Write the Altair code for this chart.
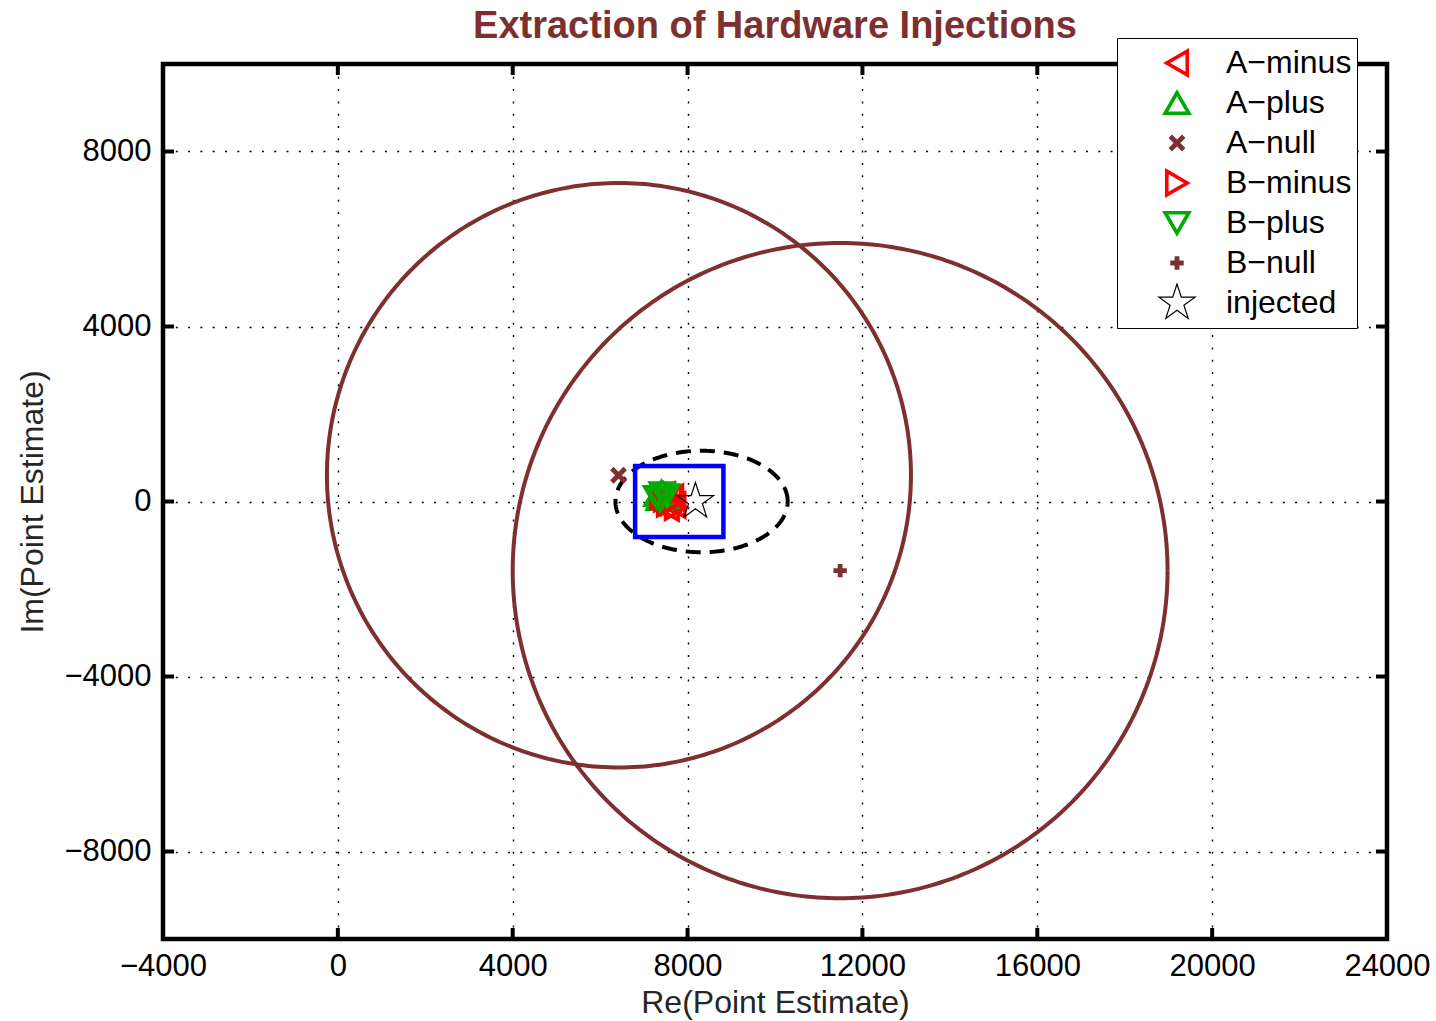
import altair as alt
import numpy as np
import pandas as pd

# ---- axis ticks -------------------------------------------------------
x_ticks = [-4000, 0, 4000, 8000, 12000, 16000, 20000, 24000]
y_ticks = [-8000, -4000, 0, 4000, 8000]

# ---- point estimates (Re, Im) per detector stream ---------------------
series_names = ["A−minus", "A−plus", "A−null", "B−minus", "B−plus", "B−null", "injected"]

a_minus_re = [7450, 7600, 7700, 7550, 7650, 7500]
a_minus_im = [150, 50, -80, -150, 100, 0]
a_plus_re = [7300, 7400, 7500, 7350, 7450]
a_plus_im = [150, 220, 100, 60, 180]
a_null_re = [6420]
a_null_im = [600]
b_minus_re = [7400, 7550, 7730, 7480, 7650]
b_minus_im = [120, -50, -130, 60, -20]
b_plus_re = [7290, 7420, 7520, 7380]
b_plus_im = [100, 190, 140, 30]
b_null_re = [11490]
b_null_im = [-1580]
injected_re = [8180]
injected_im = [0]

# ---- uncertainty regions ------------------------------------------------
null_circle_re = [6430, 11490]
null_circle_im = [600, -1580]
null_circle_radius = [6680, 7490]

ellipse_re, ellipse_im = 8320, 0
ellipse_semi_re, ellipse_semi_im = 1970, 1160

box_re = [6800, 8820]
box_im = [-810, 810]

# ---- styling --------------------------------------------------------------
BROWN = "#7E2F2F"
RED = "#FF0000"
GREEN = "#00AA00"
FONT = "Liberation Sans"

STAR = ("M0,-1L0.225,-0.309L0.951,-0.309L0.363,0.118L0.588,0.809L0,0.382"
        "L-0.588,0.809L-0.363,0.118L-0.951,-0.309L-0.225,-0.309Z")
XMARK = "M-1,-1L1,1M-1,1L1,-1"
PLUS = "M-1,0L1,0M0,-1L0,1"

series_colors = [RED, GREEN, BROWN, RED, GREEN, BROWN, "black"]
series_shapes = ["triangle-left", "triangle-up", XMARK, "triangle-right",
                 "triangle-down", PLUS, STAR]
series_sizes = [560, 560, 180, 560, 560, 180, 1450]
series_widths = [3.6, 3.6, 4.8, 3.6, 3.6, 4.8, 1.2]

W, H = 1224, 875
TICK = 11

# ---- tables ------------------------------------------------------------------
groups = [
    (a_minus_re, a_minus_im), (a_plus_re, a_plus_im), (a_null_re, a_null_im),
    (b_minus_re, b_minus_im), (b_plus_re, b_plus_im), (b_null_re, b_null_im),
    (injected_re, injected_im),
]
rows = []
for k, (name, (res, ims)) in enumerate(zip(series_names, groups)):
    for r, i in zip(res, ims):
        rows.append({"re": r, "im": i, "series": name, "layer": k})
points = pd.DataFrame(rows)

t = np.linspace(0, 2 * np.pi, 361)
circ_rows = []
for k, (cx, cy, rad) in enumerate(zip(null_circle_re, null_circle_im, null_circle_radius)):
    for j, a in enumerate(t):
        circ_rows.append({"re": cx + rad * np.cos(a), "im": cy + rad * np.sin(a),
                          "ring": k, "idx": j})
circles = pd.DataFrame(circ_rows)

ellipse = pd.DataFrame({
    "re": ellipse_re + ellipse_semi_re * np.cos(t),
    "im": ellipse_im + ellipse_semi_im * np.sin(t),
    "idx": np.arange(len(t)),
})

box = pd.DataFrame({"re0": [box_re[0]], "re1": [box_re[1]],
                    "im0": [box_im[0]], "im1": [box_im[1]]})

xt = pd.DataFrame({"re": x_ticks})
yt = pd.DataFrame({"im": y_ticks})

# ---- scales & axes --------------------------------------------------------------
xs = alt.Scale(domain=[-4000, 24000], nice=False, zero=False)
ys = alt.Scale(domain=[-10000, 10000], nice=False, zero=False)

common_axis = dict(
    format="d", grid=True, gridColor="black", gridDash=[2, 10.3], gridWidth=1.4,
    gridOpacity=1, ticks=False, domain=False, labelFont=FONT, labelFontSize=31,
    labelColor="black", labelOverlap=False, titleFont=FONT, titleFontSize=32,
    titleFontWeight="normal", titleColor="#262626",
)
x_axis = alt.Axis(values=x_ticks, labelPadding=12, titlePadding=6,
                  labelFlush=False, **common_axis)
y_axis = alt.Axis(values=y_ticks, labelPadding=12, titlePadding=14, **common_axis)

X = lambda f: alt.X(f, scale=xs, axis=x_axis, title="Re(Point Estimate)")
Y = lambda f: alt.Y(f, scale=ys, axis=y_axis, title="Im(Point Estimate)")

# ---- layers -----------------------------------------------------------------------
ring_layer = alt.Chart(circles).mark_line(color=BROWN, strokeWidth=4).encode(
    x=X("re:Q"), y=Y("im:Q"), detail="ring:N", order="idx:Q")

ellipse_layer = alt.Chart(ellipse).mark_line(
    color="black", strokeWidth=4, strokeDash=[15, 9]).encode(
    x=X("re:Q"), y=Y("im:Q"), order="idx:Q")

box_layer = alt.Chart(box).mark_rect(
    fill=None, fillOpacity=0, stroke="#0000FF", strokeWidth=4.5).encode(
    x=X("re0:Q"), x2="re1:Q", y=Y("im0:Q"), y2="im1:Q")

legend = alt.Legend(
    title=None, orient="none", legendX=954, legendY=-26, fillColor="white",
    strokeColor="black", padding=5, labelFont=FONT, labelFontSize=32,
    labelColor="black", clipHeight=40, rowPadding=0, symbolOffset=35,
    labelOffset=29, zindex=1,
)

point_layer = alt.Chart(points).mark_point(filled=False, opacity=1).encode(
    x=X("re:Q"), y=Y("im:Q"),
    color=alt.Color("series:N", scale=alt.Scale(domain=series_names, range=series_colors),
                    legend=legend, sort=series_names),
    shape=alt.Shape("series:N", scale=alt.Scale(domain=series_names, range=series_shapes),
                    legend=legend, sort=series_names),
    size=alt.Size("series:N", scale=alt.Scale(type="ordinal", domain=series_names,
                                              range=series_sizes),
                  legend=legend, sort=series_names),
    strokeWidth=alt.StrokeWidth("series:N", scale=alt.Scale(type="ordinal", domain=series_names,
                                                            range=series_widths),
                                legend=legend, sort=series_names),
    order=alt.Order("layer:Q"),
)

# inward tick marks on all four sides of the frame
tick_style = dict(color="black", strokeWidth=4)
top_ticks = alt.Chart(xt).mark_rule(**tick_style).encode(
    x=X("re:Q"), y=alt.value(0), y2=alt.value(TICK))
bottom_ticks = alt.Chart(xt).mark_rule(**tick_style).encode(
    x=X("re:Q"), y=alt.value(H - TICK), y2=alt.value(H))
left_ticks = alt.Chart(yt).mark_rule(**tick_style).encode(
    y=Y("im:Q"), x=alt.value(0), x2=alt.value(TICK))
right_ticks = alt.Chart(yt).mark_rule(**tick_style).encode(
    y=Y("im:Q"), x=alt.value(W - TICK), x2=alt.value(W))

chart = alt.layer(
    ring_layer, ellipse_layer, box_layer, point_layer,
    top_ticks, bottom_ticks, left_ticks, right_ticks,
).properties(
    width=W, height=H,
    title=alt.Title("Extraction of Hardware Injections", font=FONT, fontSize=38,
                    fontWeight="bold", color=BROWN, anchor="middle", frame="group",
                    offset=18, dy=26),
    autosize=alt.AutoSizeParams(type="none"),
    padding={"left": 163, "top": 64, "right": 49, "bottom": 82},
    background="white",
).configure_view(stroke="black", strokeWidth=4.5)

chart.save("out.html", embed_options={"renderer": "svg", "actions": False})
